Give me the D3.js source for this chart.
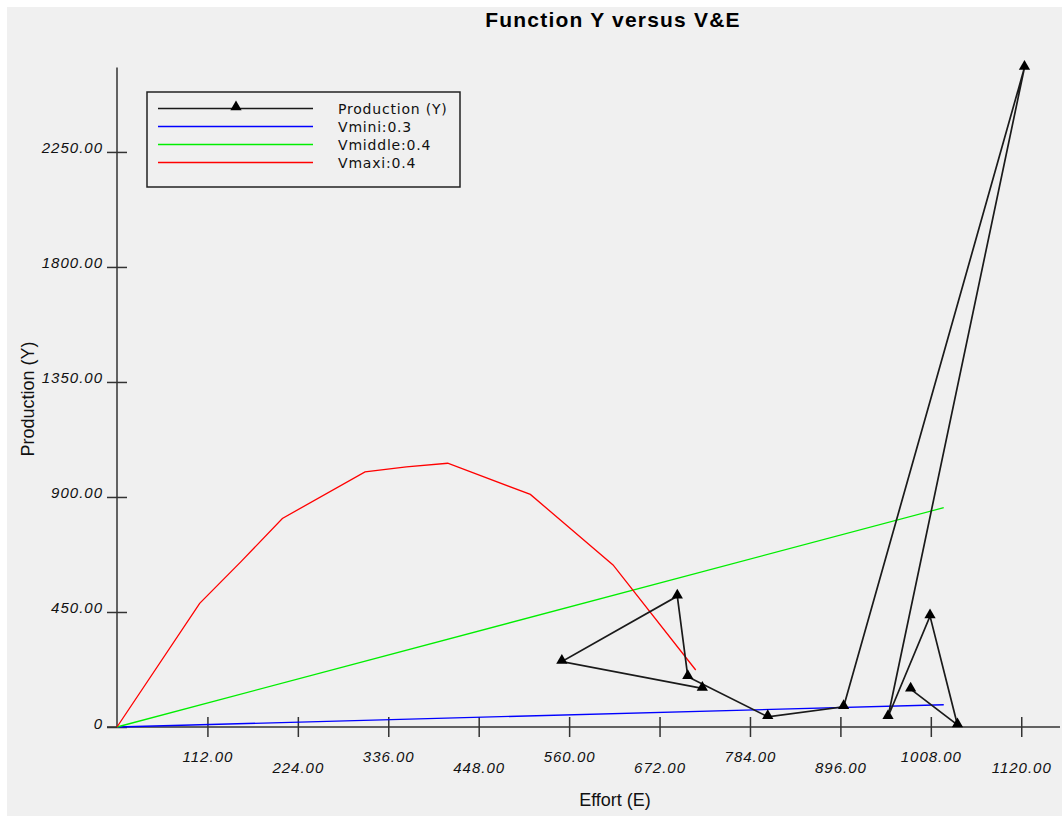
<!DOCTYPE html>
<html>
<head>
<meta charset="utf-8">
<script src="https://cdn.jsdelivr.net/npm/d3@7"></script>
<style>
  html, body { margin: 0; padding: 0; background: #ffffff; }
  svg { display: block; }
</style>
</head>
<body>
<svg id="chart" width="1062" height="816"></svg>
<script>
// ---- data -------------------------------------------------------------
// Production (Y): observed (Effort, Production) pairs in recorded order
const productionE = [725, 551, 694, 707, 806, 900, 1124, 955, 1007, 1041, 983];
const productionY = [151, 256, 512, 197, 40, 79, 2580, 40, 434, 8, 148];

// Vmini:0.3
const vminiE = [0, 1024];
const vminiY = [0, 87];

// Vmiddle:0.4
const vmiddleE = [0, 1024];
const vmiddleY = [0, 858];

// Vmaxi:0.4
const vmaxiE = [0, 102.4, 153.6, 204.8, 307.2, 358.4, 409.6, 512, 614.4, 716.8];
const vmaxiY = [0, 484, 647, 816, 998, 1018, 1032, 910, 634, 223];

// axes
const xTicks = [112, 224, 336, 448, 560, 672, 784, 896, 1008, 1120];
const yTicks = [0, 450, 900, 1350, 1800, 2250];
const xMax = 1168;
const yMax = 2580;

const seriesNames = ["Production (Y)", "Vmini:0.3", "Vmiddle:0.4", "Vmaxi:0.4"];
const seriesColors = ["#1a1a1a", "#0000ff", "#00ee00", "#ff0000"];

// ---- drawing ----------------------------------------------------------
const svg = d3.select("#chart");

// panel background
svg.append("rect")
  .attr("x", 7).attr("y", 7)
  .attr("width", 1062 - 7).attr("height", 816 - 7)
  .attr("fill", "#f0f0f0");

const x = d3.scaleLinear().domain([0, xMax]).range([117, 1060]);
const y = d3.scaleLinear().domain([0, yMax]).range([727, 67.6]);

const zip = (a, b) => a.map((v, i) => [v, b[i]]);
const line = d3.line().x(d => x(d[0])).y(d => y(d[1]));

// title
svg.append("text")
  .attr("x", 613).attr("y", 27)
  .attr("text-anchor", "middle")
  .attr("font-family", "'Liberation Sans', Arial, sans-serif")
  .attr("font-weight", "bold")
  .attr("font-size", 21)
  .attr("letter-spacing", 1.2)
  .attr("fill", "#000")
  .text("Function Y versus V&E");

// x axis
const xAxis = svg.append("g")
  .attr("transform", `translate(0,${y(0)})`)
  .call(d3.axisBottom(x).tickValues(xTicks).tickFormat(d3.format(".2f")));
xAxis.select(".domain").remove();
xAxis.selectAll(".tick line")
  .attr("y1", -10).attr("y2", 10)
  .attr("stroke", "#333").attr("stroke-width", 1.5);
xAxis.selectAll(".tick text")
  .attr("y", (d, i) => i % 2 === 0 ? 34.5 : 46)
  .attr("dy", 0)
  .attr("font-family", "'Liberation Sans', Arial, sans-serif")
  .attr("font-style", "italic")
  .attr("font-size", 15)
  .attr("letter-spacing", 1)
  .attr("fill", "#111");
svg.append("line")
  .attr("x1", 107).attr("x2", 1060)
  .attr("y1", y(0)).attr("y2", y(0))
  .attr("stroke", "#333").attr("stroke-width", 1.5);

// y axis
const yAxis = svg.append("g")
  .attr("transform", `translate(${x(0)},0)`)
  .call(d3.axisLeft(y).tickValues(yTicks)
    .tickFormat(d => d === 0 ? "0" : d3.format(".2f")(d)));
yAxis.select(".domain").remove();
yAxis.selectAll(".tick line")
  .attr("x1", -10).attr("x2", 10)
  .attr("stroke", "#333").attr("stroke-width", 1.5);
yAxis.selectAll(".tick text")
  .attr("x", -14)
  .attr("dy", 1)
  .attr("font-family", "'Liberation Sans', Arial, sans-serif")
  .attr("font-style", "italic")
  .attr("font-size", 15)
  .attr("letter-spacing", 1)
  .attr("fill", "#111");
svg.append("line")
  .attr("x1", x(0)).attr("x2", x(0))
  .attr("y1", y(yMax)).attr("y2", y(0))
  .attr("stroke", "#333").attr("stroke-width", 1.5);

// axis titles
svg.append("text")
  .attr("x", 615).attr("y", 806)
  .attr("text-anchor", "middle")
  .attr("font-family", "'Liberation Sans', Arial, sans-serif")
  .attr("font-size", 18)
  .attr("fill", "#111")
  .text("Effort (E)");
svg.append("text")
  .attr("transform", "translate(34,399) rotate(-90)")
  .attr("text-anchor", "middle")
  .attr("font-family", "'Liberation Sans', Arial, sans-serif")
  .attr("font-size", 18)
  .attr("fill", "#111")
  .text("Production (Y)");

// model curves
const curves = [
  zip(vminiE, vminiY),
  zip(vmiddleE, vmiddleY),
  zip(vmaxiE, vmaxiY)
];
svg.append("g").selectAll("path")
  .data(curves)
  .join("path")
  .attr("d", line)
  .attr("fill", "none")
  .attr("stroke", (d, i) => seriesColors[i + 1])
  .attr("stroke-width", 1.3);

// production path and markers
const prod = zip(productionE, productionY);
svg.append("path")
  .attr("d", line(prod))
  .attr("fill", "none")
  .attr("stroke", seriesColors[0])
  .attr("stroke-width", 1.7);
const tri = d3.symbol().type(d3.symbolTriangle).size(55);
svg.append("g").selectAll("path")
  .data(prod)
  .join("path")
  .attr("transform", d => `translate(${x(d[0])},${y(d[1]) - 1})`)
  .attr("d", tri)
  .attr("fill", "#000");

// legend
const lg = svg.append("g");
lg.append("rect")
  .attr("x", 147).attr("y", 92)
  .attr("width", 313).attr("height", 95)
  .attr("fill", "none")
  .attr("stroke", "#222").attr("stroke-width", 1.5);
const rows = lg.selectAll("g.row")
  .data(seriesNames)
  .join("g")
  .attr("class", "row")
  .attr("transform", (d, i) => `translate(0,${108.5 + i * 18})`);
rows.append("line")
  .attr("x1", 158).attr("x2", 313)
  .attr("stroke", (d, i) => seriesColors[i])
  .attr("stroke-width", 1.4);
rows.append("text")
  .attr("x", 338).attr("y", 5)
  .attr("font-family", "'DejaVu Sans', Verdana, sans-serif")
  .attr("font-size", 14)
  .attr("letter-spacing", 0.8)
  .attr("fill", "#111")
  .text(d => d);
lg.append("path")
  .attr("transform", "translate(236,107)")
  .attr("d", tri)
  .attr("fill", "#000");
</script>
</body>
</html>
